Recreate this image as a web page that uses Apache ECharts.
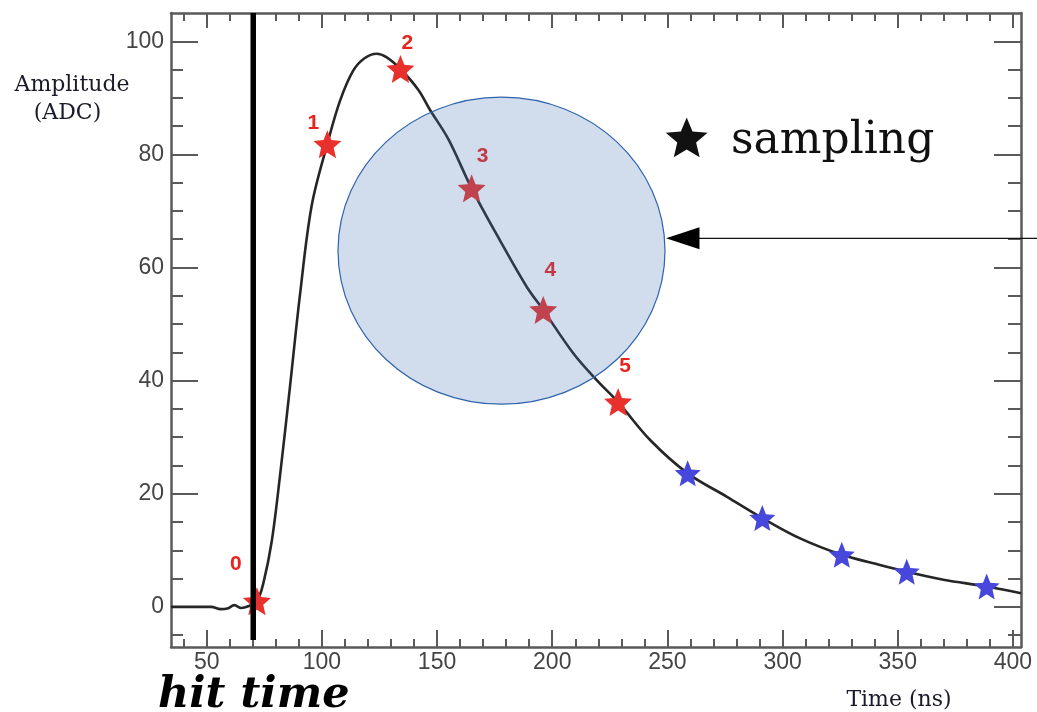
<!DOCTYPE html>
<html><head><meta charset="utf-8">
<script src="https://cdn.jsdelivr.net/npm/echarts@6/dist/echarts.min.js"></script>
<style>html,body{margin:0;padding:0;background:#fff}#c{width:1037px;height:712px}</style>
</head><body><div id="c"></div>
<script>
// ---- data ----
const pulseTime = [34.5, 45, 52, 56, 59, 62, 65, 68, 71.8, 74.6, 78.2, 81.8, 86.2, 90.5, 95.6, 102.4, 107.9, 113.6, 118.5, 123.8, 128, 134.1, 141.9, 146.9, 154.9, 165.0, 177.3, 188.9, 196.1, 209.2, 219.3, 228.6, 242.5, 258.8, 275.7, 291.2, 307.6, 325.7, 339.4, 353.9, 369.8, 388.6, 403.5];
const pulseAmp  = [0, 0, 0, -0.4, -0.3, 0.3, -0.2, 0.1, 1.0, 4.2, 11.5, 23.1, 39.1, 55.2, 71.0, 81.9, 89.5, 94.8, 97.0, 97.8, 97.2, 95.1, 91.4, 87.9, 82.7, 74.0, 64.8, 56.6, 52.5, 44.8, 40.1, 36.2, 29.5, 23.6, 19.5, 15.7, 12.1, 9.2, 7.7, 6.2, 4.8, 3.6, 2.4];
const redSampleTime  = [71.8, 102.4, 134.1, 165.0, 196.1, 228.6];
const redSampleAmp   = [1.0, 81.8, 95.1, 74.0, 52.5, 36.2];
const redSampleLabel = ['0', '1', '2', '3', '4', '5'];
const blueSampleTime = [258.8, 291.2, 325.7, 353.9, 388.6];
const blueSampleAmp  = [23.6, 15.7, 9.2, 6.2, 3.6];
const hitTime = 70.2;
const xTickLabels = [50, 100, 150, 200, 250, 300, 350, 400];
const xMinorTicks = [40, 60, 70, 80, 90, 110, 120, 130, 140, 160, 170, 180, 190, 210, 220, 230, 240, 260, 270, 280, 290, 310, 320, 330, 340, 360, 370, 380, 390];
const yTickLabels = [0, 20, 40, 60, 80, 100];
const yMinorTicks = [-5, 5, 10, 15, 25, 30, 35, 45, 50, 55, 65, 70, 75, 85, 90, 95];
const xRange = [34.5, 403.5];
const yRange = [-7.1, 105];
const texts = { yTitle1: 'Amplitude', yTitle2: '(ADC)', xTitle: 'Time (ns)', legend: 'sampling', hit: 'hit time' };

// ---- chart ----
const STAR = 'M0,-1L0.2645,-0.364L0.9511,-0.309L0.428,0.139L0.5878,0.809L0,0.45L-0.5878,0.809L-0.428,0.139L-0.9511,-0.309L-0.2645,-0.364Z';
function starPoints(cx, cy, r, inner) {
  const pts = [];
  for (let k = 0; k < 10; k++) {
    const ang = -Math.PI / 2 + k * Math.PI / 5;
    const rr = k % 2 === 0 ? r : r * inner;
    pts.push([cx + rr * Math.cos(ang), cy + rr * Math.sin(ang)]);
  }
  return pts;
}
const frameColor = '#5a5a5a';
const gridBox = { left: 171, top: 13, width: 850, height: 634 };

function xAx(grid, pos, len, vals, labels) {
  return {
    gridIndex: grid, type: 'value', position: pos, min: xRange[0], max: xRange[1],
    axisLine: { show: grid === 0, onZero: false, lineStyle: { color: frameColor, width: 2.5 } },
    axisTick: { show: true, inside: true, length: len, customValues: vals, lineStyle: { color: frameColor, width: 2 } },
    axisLabel: labels ? { show: true, customValues: vals, fontSize: 23, color: '#444444', margin: 4, fontFamily: 'Liberation Sans' } : { show: false },
    splitLine: { show: false }
  };
}
function yAx(grid, pos, len, vals, labels) {
  return {
    gridIndex: grid, type: 'value', position: pos, min: yRange[0], max: yRange[1],
    axisLine: { show: grid === 0, onZero: false, lineStyle: { color: frameColor, width: 2.5 } },
    axisTick: { show: true, inside: true, length: len, customValues: vals, lineStyle: { color: frameColor, width: 2 } },
    axisLabel: labels ? { show: true, customValues: vals, fontSize: 23, color: '#444444', margin: 7, fontFamily: 'Liberation Sans' } : { show: false },
    splitLine: { show: false }
  };
}

const redLabelOffsets = [[-21, -37], [-14, -21], [7, -26], [11, -32], [7, -40], [7, -36]];

const option = {
  animation: false,
  backgroundColor: '#ffffff',
  grid: [Object.assign({}, gridBox), Object.assign({}, gridBox)],
  xAxis: [
    xAx(0, 'bottom', 17, xTickLabels, true),
    xAx(0, 'top', 15, xTickLabels, false),
    xAx(1, 'bottom', 8, xMinorTicks, false),
    xAx(1, 'top', 8, xMinorTicks, false)
  ],
  yAxis: [
    yAx(0, 'left', 27, yTickLabels, true),
    yAx(0, 'right', 27, yTickLabels, false),
    yAx(1, 'left', 12, yMinorTicks, false),
    yAx(1, 'right', 13, yMinorTicks, false)
  ],
  series: [
    {
      type: 'line', xAxisIndex: 0, yAxisIndex: 0, z: 2, silent: true,
      data: pulseTime.map((t, i) => [t, pulseAmp[i]]),
      showSymbol: false, smooth: 0.35,
      lineStyle: { color: '#262626', width: 2.6 }
    },
    {
      type: 'scatter', xAxisIndex: 0, yAxisIndex: 0, z: 3, silent: true,
      symbol: 'path://' + STAR, symbolSize: 28,
      itemStyle: { color: '#e8302c', opacity: 1 },
      data: redSampleTime.map((t, i) => ({
        value: [t, redSampleAmp[i]],
        label: { offset: redLabelOffsets[i] }
      })),
      label: {
        show: true, position: 'inside',
        formatter: p => redSampleLabel[p.dataIndex],
        color: '#e8241f', fontSize: 21, fontWeight: 'bold', fontFamily: 'Liberation Sans'
      }
    },
    {
      type: 'scatter', xAxisIndex: 0, yAxisIndex: 0, z: 3, silent: true,
      symbol: 'path://' + STAR, symbolSize: 26,
      itemStyle: { color: '#4747dc', opacity: 1 },
      data: blueSampleTime.map((t, i) => [t, blueSampleAmp[i]])
    },
    {
      type: 'line', xAxisIndex: 0, yAxisIndex: 0, z: 4, silent: true,
      data: [[hitTime, yRange[1]], [hitTime, -5.85]],
      showSymbol: false,
      lineStyle: { color: '#000000', width: 5.5 }
    }
  ],
  graphic: [
    { type: 'ellipse', z: 100, shape: { cx: 501.5, cy: 250.7, rx: 163.5, ry: 153.5 },
      style: { fill: 'rgba(70,120,180,0.25)', stroke: '#2f63ad', lineWidth: 1.2 } },
    { type: 'line', z: 100, shape: { x1: 698, y1: 238.3, x2: 1037, y2: 238.3 },
      style: { stroke: '#111111', lineWidth: 1.3 } },
    { type: 'polygon', z: 100, shape: { points: [[666, 238.3], [699.5, 227.3], [699.5, 249.3]] },
      style: { fill: '#000000' } },
    { type: 'polygon', z: 100, shape: { points: starPoints(686.7, 139.5, 22, 0.45) },
      style: { fill: '#111111' } },
    { type: 'text', z: 100, style: { text: texts.legend, x: 731, y: 142, font: '44px "DejaVu Serif"', fill: '#111111',
      align: 'left', verticalAlign: 'middle', textAlign: 'left', textVerticalAlign: 'middle' } },
    { type: 'text', z: 100, style: { text: texts.hit, x: 158, y: 696, font: 'italic bold 43px "DejaVu Serif"', fill: '#000000',
      align: 'left', verticalAlign: 'middle', textAlign: 'left', textVerticalAlign: 'middle' } },
    { type: 'text', z: 100, style: { text: texts.yTitle1, x: 72, y: 85.5, font: '22px "DejaVu Serif"', fill: '#1a1a2a',
      align: 'center', verticalAlign: 'middle', textAlign: 'center', textVerticalAlign: 'middle' } },
    { type: 'text', z: 100, style: { text: texts.yTitle2, x: 67.5, y: 113.5, font: '22px "DejaVu Serif"', fill: '#1a1a2a',
      align: 'center', verticalAlign: 'middle', textAlign: 'center', textVerticalAlign: 'middle' } },
    { type: 'text', z: 100, style: { text: texts.xTitle, x: 899, y: 700, font: '22px "DejaVu Serif"', fill: '#1a1a2a',
      align: 'center', verticalAlign: 'middle', textAlign: 'center', textVerticalAlign: 'middle' } }
  ]
};

const chart = echarts.init(document.getElementById('c'), null, { renderer: 'canvas' });
chart.setOption(option);
</script>
</body></html>
